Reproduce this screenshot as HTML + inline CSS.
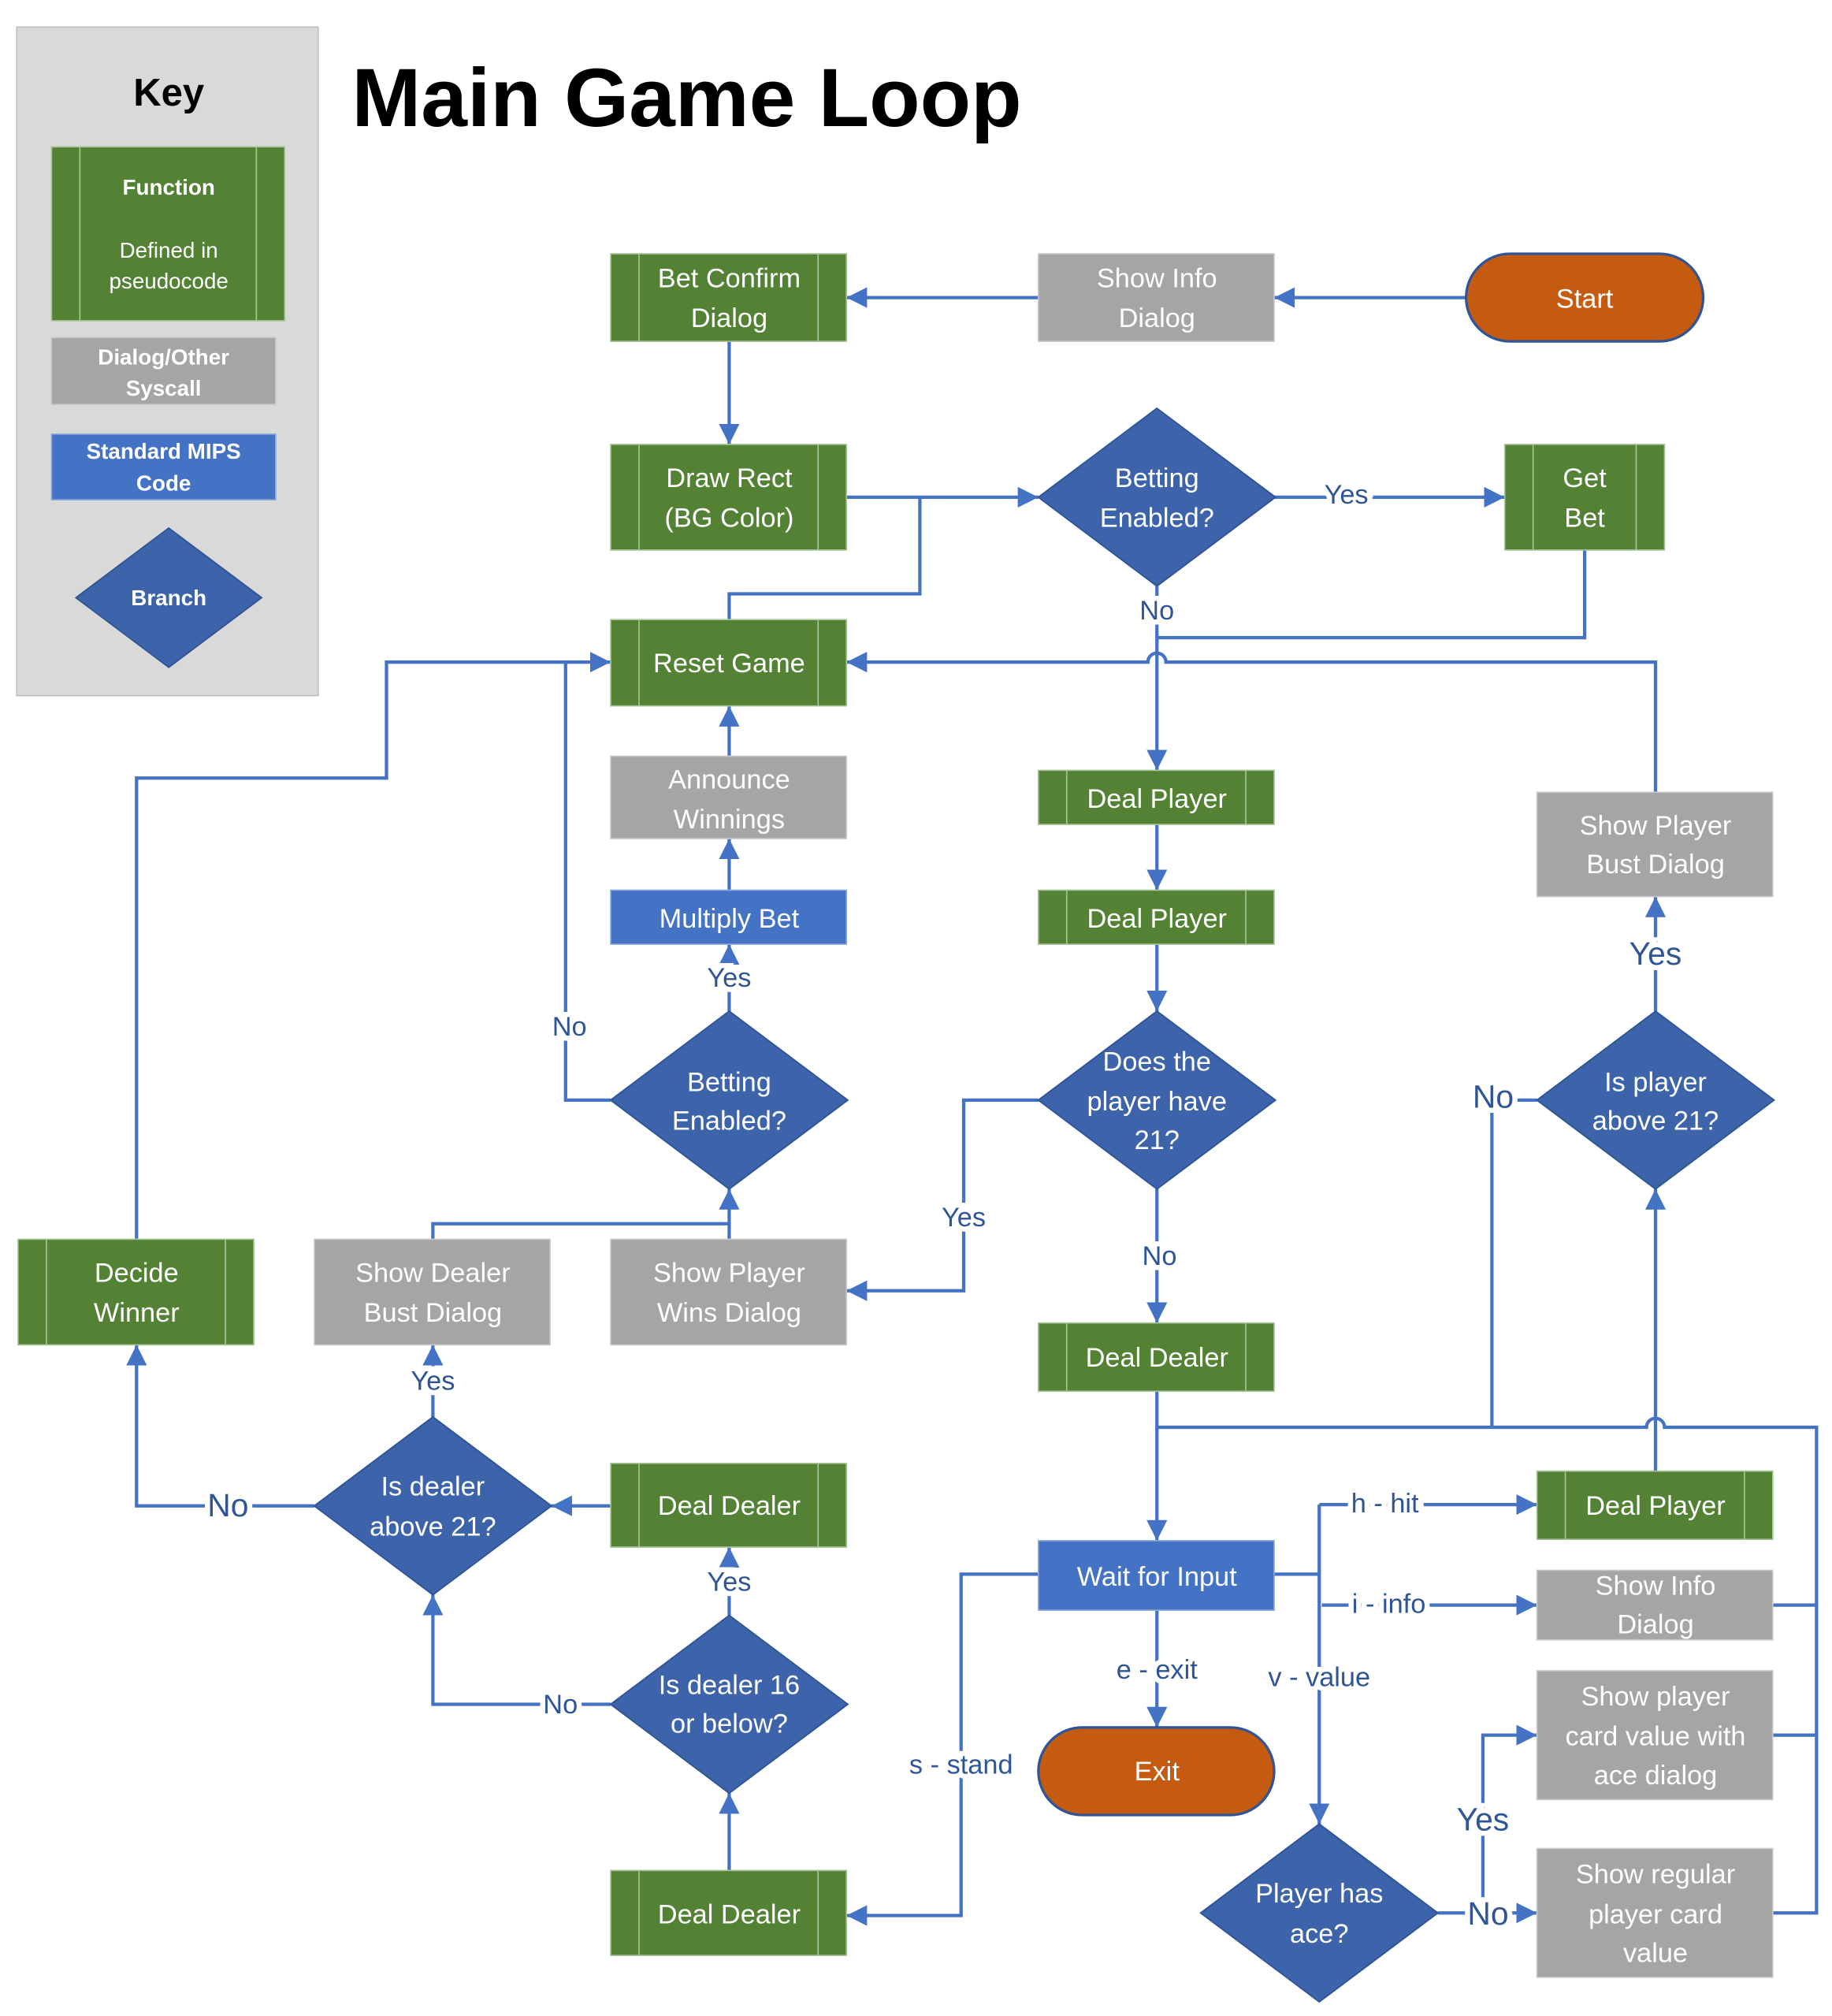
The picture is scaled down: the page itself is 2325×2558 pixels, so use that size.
<!DOCTYPE html>
<html><head><meta charset="utf-8"><style>
html,body{margin:0;padding:0;background:#fff}
svg{display:block}
text{font-family:"Liberation Sans",sans-serif}
.n{fill:#fff;font-size:21px;text-anchor:middle}
.k{fill:#fff;font-size:17px;font-weight:bold;text-anchor:middle}
.l{fill:#2f5597;font-size:21px;text-anchor:middle;paint-order:stroke;stroke:#fff;stroke-width:8px}
.c{fill:none;stroke:#4472c4;stroke-width:2.6}
.g{fill:#548235;stroke:#a9c39a;stroke-width:1}
.gl{stroke:#a9c39a;stroke-width:1}
.y{fill:#a5a5a5;stroke:#c9c9c9;stroke-width:1}
.b{fill:#4472c4;stroke:#8faadc;stroke-width:1}
.d{fill:#3d63ab;stroke:#2f5597;stroke-width:1.2}
.o{fill:#c55a11;stroke:#2f5597;stroke-width:2}
</style></head><body>
<svg width="2325" height="2558" viewBox="0 0 1422 1565" preserveAspectRatio="none" xmlns="http://www.w3.org/2000/svg">
<defs><marker id="a" markerUnits="userSpaceOnUse" markerWidth="18" markerHeight="16" refX="16" refY="8" orient="auto"><path d="M0,0 L16,8 L0,16 Z" fill="#4472c4"/></marker></defs>

<!-- Key -->
<rect x="13" y="21" width="234" height="519" fill="#d9d9d9" stroke="#bfbfbf"/>
<text x="131" y="82" font-size="30" font-weight="bold" text-anchor="middle" fill="#000">Key</text>
<rect class="g" x="40" y="114" width="181" height="135"/><line class="gl" x1="62" y1="114" x2="62" y2="249"/><line class="gl" x1="199" y1="114" x2="199" y2="249"/>
<text class="k" x="131" y="151">Function</text>
<text class="k" x="131" y="200" style="font-weight:normal">Defined in</text>
<text class="k" x="131" y="224" style="font-weight:normal">pseudocode</text>
<rect class="y" x="40" y="262" width="174" height="52"/>
<text class="k" x="127" y="283">Dialog/Other</text><text class="k" x="127" y="307">Syscall</text>
<rect class="b" x="40" y="337" width="174" height="51"/>
<text class="k" x="127" y="356">Standard MIPS</text><text class="k" x="127" y="381">Code</text>
<polygon class="d" points="131,410 203,464 131,518 59,464"/>
<text class="k" x="131" y="470">Branch</text>

<text x="273" y="98" font-size="64" font-weight="bold" fill="#000" textLength="520" lengthAdjust="spacingAndGlyphs">Main Game Loop</text>

<!-- connectors -->
<path class="c" d="M1138,231 H989" marker-end="url(#a)"/>
<path class="c" d="M806,231 H657" marker-end="url(#a)"/>
<path class="c" d="M566,265 V345" marker-end="url(#a)"/>
<path class="c" d="M657,386 H806" marker-end="url(#a)"/>
<path class="c" d="M714,386 V461 H566 V481"/>
<path class="c" d="M989,386 H1168" marker-end="url(#a)"/>
<path class="c" d="M898,455 V598" marker-end="url(#a)"/>
<path class="c" d="M1230,427 V495 H898"/>
<path class="c" d="M1285,615 V514 H905 A7,7 0 0 0 891,514 H657" marker-end="url(#a)"/>
<path class="c" d="M566,587 V548" marker-end="url(#a)"/>
<path class="c" d="M566,691 V651" marker-end="url(#a)"/>
<path class="c" d="M566,785 V733" marker-end="url(#a)"/>
<path class="c" d="M474,854 H439 V514 H474" marker-end="url(#a)"/>
<path class="c" d="M106,962 V604 H300 V514 H439"/>
<path class="c" d="M336,962 V950 H566"/>
<path class="c" d="M566,962 V923" marker-end="url(#a)"/>
<path class="c" d="M806,854 H748 V1002 H657" marker-end="url(#a)"/>
<path class="c" d="M898,923 V1027" marker-end="url(#a)"/>
<path class="c" d="M898,640 V691" marker-end="url(#a)"/>
<path class="c" d="M898,733 V785" marker-end="url(#a)"/>
<path class="c" d="M898,1080 V1196" marker-end="url(#a)"/>
<path class="c" d="M898,1108 H1278 A7,7 0 0 1 1292,1108 H1410 V1485 H1376"/>
<path class="c" d="M1376,1246 H1410 M1376,1347 H1410"/>
<path class="c" d="M1285,1142 V923" marker-end="url(#a)"/>
<path class="c" d="M1158,1108 V854 H1193"/>
<path class="c" d="M1285,785 V696" marker-end="url(#a)"/>
<path class="c" d="M989,1222 H1024"/>
<path class="c" d="M1024,1168 V1416" marker-end="url(#a)"/>
<path class="c" d="M1024,1168 H1193" marker-end="url(#a)"/>
<path class="c" d="M1026,1246 H1193" marker-end="url(#a)"/>
<path class="c" d="M898,1250 V1341" marker-end="url(#a)"/>
<path class="c" d="M806,1222 H746 V1487 H657" marker-end="url(#a)"/>
<path class="c" d="M566,1452 V1392" marker-end="url(#a)"/>
<path class="c" d="M566,1254 V1201" marker-end="url(#a)"/>
<path class="c" d="M474,1323 H336 V1238" marker-end="url(#a)"/>
<path class="c" d="M474,1169 H428" marker-end="url(#a)"/>
<path class="c" d="M336,1100 V1044" marker-end="url(#a)"/>
<path class="c" d="M244,1169 H106 V1044" marker-end="url(#a)"/>
<path class="c" d="M1116,1485 H1193" marker-end="url(#a)"/>
<path class="c" d="M1151,1485 V1347 H1193" marker-end="url(#a)"/>

<!-- labels -->
<text class="l" x="1045" y="391">Yes</text>
<text class="l" x="898" y="481">No</text>
<text class="l" x="566" y="766">Yes</text>
<text class="l" x="442" y="804">No</text>
<text class="l" x="748" y="952">Yes</text>
<text class="l" x="900" y="982">No</text>
<text class="l" x="1285" y="749" style="font-size:25px">Yes</text>
<text class="l" x="1159" y="860" style="font-size:25px">No</text>
<text class="l" x="336" y="1079">Yes</text>
<text class="l" x="177" y="1177" style="font-size:25px">No</text>
<text class="l" x="566" y="1235">Yes</text>
<text class="l" x="435" y="1330">No</text>
<text class="l" x="1075" y="1174">h - hit</text>
<text class="l" x="1078" y="1252">i - info</text>
<text class="l" x="1024" y="1309">v -  value</text>
<text class="l" x="898" y="1303">e - exit</text>
<text class="l" x="746" y="1377">s - stand</text>
<text class="l" x="1151" y="1421" style="font-size:25px">Yes</text>
<text class="l" x="1155" y="1494" style="font-size:25px">No</text>

<!-- nodes -->
<g>
<rect class="g" x="474" y="197" width="183" height="68"/><line class="gl" x1="496" y1="197" x2="496" y2="265"/><line class="gl" x1="635" y1="197" x2="635" y2="265"/>
<text class="n" x="566" y="223">Bet Confirm</text><text class="n" x="566" y="254">Dialog</text>

<rect class="y" x="806" y="197" width="183" height="68"/>
<text class="n" x="898" y="223">Show Info</text><text class="n" x="898" y="254">Dialog</text>

<rect class="o" x="1138" y="197" width="184" height="68" rx="34"/>
<text class="n" x="1230" y="239">Start</text>

<rect class="g" x="474" y="345" width="183" height="82"/><line class="gl" x1="496" y1="345" x2="496" y2="427"/><line class="gl" x1="635" y1="345" x2="635" y2="427"/>
<text class="n" x="566" y="378">Draw Rect</text><text class="n" x="566" y="409">(BG Color)</text>

<polygon class="d" points="898,317 990,386 898,455 806,386"/>
<text class="n" x="898" y="378">Betting</text><text class="n" x="898" y="409">Enabled?</text>

<rect class="g" x="1168" y="345" width="124" height="82"/><line class="gl" x1="1190" y1="345" x2="1190" y2="427"/><line class="gl" x1="1270" y1="345" x2="1270" y2="427"/>
<text class="n" x="1230" y="378">Get</text><text class="n" x="1230" y="409">Bet</text>

<rect class="g" x="474" y="481" width="183" height="67"/><line class="gl" x1="496" y1="481" x2="496" y2="548"/><line class="gl" x1="635" y1="481" x2="635" y2="548"/>
<text class="n" x="566" y="522">Reset Game</text>

<rect class="y" x="474" y="587" width="183" height="64"/>
<text class="n" x="566" y="612">Announce</text><text class="n" x="566" y="643">Winnings</text>

<rect class="b" x="474" y="691" width="183" height="42"/>
<text class="n" x="566" y="720">Multiply Bet</text>

<polygon class="d" points="566,785 658,854 566,923 474,854"/>
<text class="n" x="566" y="847">Betting</text><text class="n" x="566" y="877">Enabled?</text>

<rect class="g" x="806" y="598" width="183" height="42"/><line class="gl" x1="828" y1="598" x2="828" y2="640"/><line class="gl" x1="967" y1="598" x2="967" y2="640"/>
<text class="n" x="898" y="627">Deal Player</text>
<rect class="g" x="806" y="691" width="183" height="42"/><line class="gl" x1="828" y1="691" x2="828" y2="733"/><line class="gl" x1="967" y1="691" x2="967" y2="733"/>
<text class="n" x="898" y="720">Deal Player</text>

<polygon class="d" points="898,785 990,854 898,923 806,854"/>
<text class="n" x="898" y="831">Does the</text><text class="n" x="898" y="862">player have</text><text class="n" x="898" y="892">21?</text>

<rect class="y" x="1193" y="615" width="183" height="81"/>
<text class="n" x="1285" y="648">Show Player</text><text class="n" x="1285" y="678">Bust Dialog</text>

<polygon class="d" points="1285,785 1377,854 1285,923 1193,854"/>
<text class="n" x="1285" y="847">Is player</text><text class="n" x="1285" y="877">above 21?</text>

<rect class="g" x="14" y="962" width="183" height="82"/><line class="gl" x1="36" y1="962" x2="36" y2="1044"/><line class="gl" x1="175" y1="962" x2="175" y2="1044"/>
<text class="n" x="106" y="995">Decide</text><text class="n" x="106" y="1026">Winner</text>

<rect class="y" x="244" y="962" width="183" height="82"/>
<text class="n" x="336" y="995">Show Dealer</text><text class="n" x="336" y="1026">Bust Dialog</text>

<rect class="y" x="474" y="962" width="183" height="82"/>
<text class="n" x="566" y="995">Show Player</text><text class="n" x="566" y="1026">Wins Dialog</text>

<rect class="g" x="806" y="1027" width="183" height="53"/><line class="gl" x1="828" y1="1027" x2="828" y2="1080"/><line class="gl" x1="967" y1="1027" x2="967" y2="1080"/>
<text class="n" x="898" y="1061">Deal Dealer</text>

<polygon class="d" points="336,1100 428,1169 336,1238 244,1169"/>
<text class="n" x="336" y="1161">Is dealer</text><text class="n" x="336" y="1192">above 21?</text>

<rect class="g" x="474" y="1136" width="183" height="65"/><line class="gl" x1="496" y1="1136" x2="496" y2="1201"/><line class="gl" x1="635" y1="1136" x2="635" y2="1201"/>
<text class="n" x="566" y="1176">Deal Dealer</text>

<polygon class="d" points="566,1254 658,1323 566,1392 474,1323"/>
<text class="n" x="566" y="1315">Is dealer 16</text><text class="n" x="566" y="1345">or below?</text>

<rect class="g" x="474" y="1452" width="183" height="66"/><line class="gl" x1="496" y1="1452" x2="496" y2="1518"/><line class="gl" x1="635" y1="1452" x2="635" y2="1518"/>
<text class="n" x="566" y="1493">Deal Dealer</text>

<rect class="b" x="806" y="1196" width="183" height="54"/>
<text class="n" x="898" y="1231">Wait for Input</text>

<rect class="o" x="806" y="1341" width="183" height="68" rx="34"/>
<text class="n" x="898" y="1382">Exit</text>

<rect class="g" x="1193" y="1142" width="183" height="53"/><line class="gl" x1="1215" y1="1142" x2="1215" y2="1195"/><line class="gl" x1="1354" y1="1142" x2="1354" y2="1195"/>
<text class="n" x="1285" y="1176">Deal Player</text>

<rect class="y" x="1193" y="1219" width="183" height="54"/>
<text class="n" x="1285" y="1238">Show Info</text><text class="n" x="1285" y="1268">Dialog</text>

<rect class="y" x="1193" y="1297" width="183" height="100"/>
<text class="n" x="1285" y="1324">Show player</text><text class="n" x="1285" y="1355">card value with</text><text class="n" x="1285" y="1385">ace dialog</text>

<rect class="y" x="1193" y="1435" width="183" height="100"/>
<text class="n" x="1285" y="1462">Show regular</text><text class="n" x="1285" y="1493">player card</text><text class="n" x="1285" y="1523">value</text>

<polygon class="d" points="1024,1416 1116,1485 1024,1554 932,1485"/>
<text class="n" x="1024" y="1477">Player has</text><text class="n" x="1024" y="1508">ace?</text>
</g>
</svg>
</body></html>
